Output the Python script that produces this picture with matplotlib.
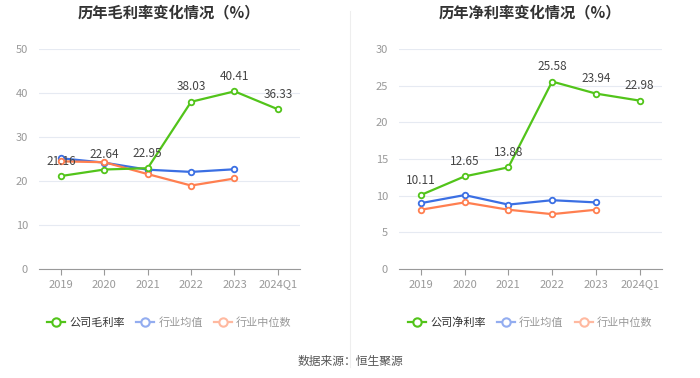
import matplotlib.pyplot as plt
from matplotlib.lines import Line2D

plt.rcParams['font.family'] = ['Noto Sans CJK SC', 'DejaVu Sans']

years = ["2019", "2020", "2021", "2022", "2023", "2024Q1"]
gross_company = [21.16, 22.64, 22.95, 38.03, 40.41, 36.33]
gross_avg = [25.2, 24.2, 22.6, 22.1, 22.7]
gross_median = [24.5, 24.3, 21.6, 19.0, 20.6]
net_company = [10.11, 12.65, 13.88, 25.58, 23.94, 22.98]
net_avg = [9.0, 10.1, 8.8, 9.4, 9.1]
net_median = [8.1, 9.1, 8.1, 7.5, 8.1]

green = "#52c41a"
blue = "#3b6fe3"
orange = "#ff7f50"

fig = plt.figure(figsize=(7, 3.78), dpi=100)

def draw(ax, title, comp, avg, med, ymax, step, comp_name):
    x = list(range(len(years)))
    ax.plot(x[:len(avg)], avg, color=blue, lw=1.6, marker="o", ms=4, mfc="white", mec=blue, mew=1.3, zorder=3)
    ax.plot(x[:len(med)], med, color=orange, lw=1.6, marker="o", ms=4, mfc="white", mec=orange, mew=1.3, zorder=3)
    ax.plot(x, comp, color=green, lw=1.6, marker="o", ms=4, mfc="white", mec=green, mew=1.3, zorder=4)
    for i, v in enumerate(comp):
        ax.annotate(f"{v:.2f}", (i, v), xytext=(0, 6), textcoords="offset points",
                    ha="center", va="bottom", fontsize=8.5, color="#444444", zorder=5)
    ax.set_xlim(-0.5, len(years) - 0.5)
    ax.set_ylim(0, ymax)
    ax.set_yticks(range(0, ymax + 1, step))
    ax.set_xticks(x)
    ax.set_xticklabels(years)
    ax.grid(axis="y", color="#e6eaf2", lw=0.8)
    ax.set_axisbelow(True)
    for s in ["top", "right", "left"]:
        ax.spines[s].set_visible(False)
    ax.spines["bottom"].set_color("#999999")
    ax.tick_params(axis="y", length=0, labelsize=8, labelcolor="#999999", pad=8)
    ax.tick_params(axis="x", length=4, color="#999999", labelsize=8, labelcolor="#999999")
    ax.set_title(title, fontsize=11, fontweight="bold", color="#333333", pad=23)
    handles = [
        Line2D([], [], color=green, lw=1.6, marker="o", ms=6, mfc="white", mec=green, mew=1.5),
        Line2D([], [], color="#93adf0", lw=1.6, marker="o", ms=6, mfc="white", mec="#93adf0", mew=1.5),
        Line2D([], [], color="#ffb9a0", lw=1.6, marker="o", ms=6, mfc="white", mec="#ffb9a0", mew=1.5),
    ]
    leg = ax.legend(handles, [comp_name, "行业均值", "行业中位数"], loc="upper center",
                    bbox_to_anchor=(0.5, -0.175), ncol=3, frameon=False, fontsize=8,
                    handlelength=1.6, columnspacing=1.0, handletextpad=0.4)
    cols = ["#333333", "#999999", "#999999"]
    for t, c in zip(leg.get_texts(), cols):
        t.set_color(c)

ax1 = fig.add_axes([0.056, 0.288, 0.372, 0.582])
draw(ax1, "历年毛利率变化情况（%）", gross_company, gross_avg, gross_median, 50, 10, "公司毛利率")
ax2 = fig.add_axes([0.570, 0.288, 0.375, 0.582])
draw(ax2, "历年净利率变化情况（%）", net_company, net_avg, net_median, 30, 5, "公司净利率")

fig.add_artist(Line2D([0.5, 0.5], [0.03, 0.97], color="#eeeeee", lw=0.8))
fig.text(0.5, 0.043, "数据来源：恒生聚源", ha="center", va="center", fontsize=8.5, color="#555555")

fig.savefig("out.png", dpi=100)
